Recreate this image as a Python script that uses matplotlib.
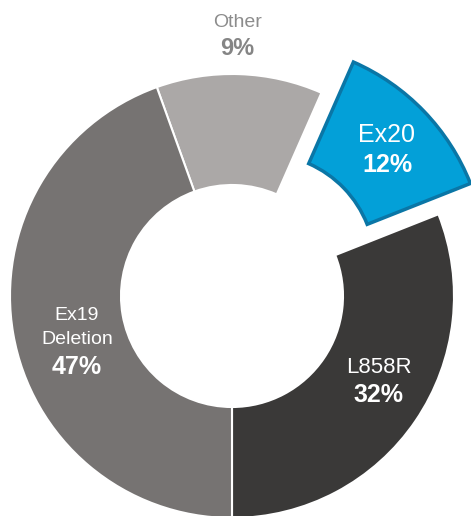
import matplotlib.pyplot as plt

plt.rcParams['font.family'] = ['Liberation Sans', 'DejaVu Sans']

# data, starting at 6 o'clock and going counterclockwise
names = ["L858R", "Ex20", "Other", "Ex19 Deletion"]
percent_labels = ["32%", "12%", "9%", "47%"]
# slice sizes as drawn in the picture (they differ a bit from the printed labels)
slice_sizes = [31.0, 12.4, 12.1, 44.5]
colors = ["#3a3938", "#03a0d8", "#aba8a7", "#767372"]
explode = [0, 0.2, 0, 0]

fig = plt.figure(figsize=(4.71, 5.16), dpi=100)
ax = fig.add_axes([0, 0, 1, 1])

wedges, _ = ax.pie(slice_sizes, colors=colors, explode=explode, startangle=-90,
                   counterclock=True, radius=1.0,
                   wedgeprops=dict(width=0.5, edgecolor="white", linewidth=1.5))
wedges[1].set_edgecolor("#0a76a6")
wedges[1].set_linewidth(2.5)

# center of the ring at pixel (232, 296), radius 222 px
ax.set_xlim(-232 / 222, (471 - 232) / 222)
ax.set_ylim(-(516 - 296) / 222, 296 / 222)
ax.set_aspect("equal")
ax.axis("off")

# labels
ax.text(0.023, 1.234, "Other", ha="center", va="center", fontsize=14, color="#8c8c8c")
ax.text(0.023, 1.113, percent_labels[2], ha="center", va="center", fontsize=17,
        color="#858585", fontweight="bold")

ax.text(0.698, 0.725, "Ex20", ha="center", va="center", fontsize=18, color="white")
ax.text(0.698, 0.59, percent_labels[1], ha="center", va="center", fontsize=18,
        color="white", fontweight="bold")

ax.text(-0.698, -0.086, "Ex19", ha="center", va="center", fontsize=14, color="white")
ax.text(-0.698, -0.194, "Deletion", ha="center", va="center", fontsize=14, color="white")
ax.text(-0.698, -0.32, percent_labels[3], ha="center", va="center", fontsize=18,
        color="white", fontweight="bold")

ax.text(0.662, -0.32, names[0], ha="center", va="center", fontsize=16, color="white")
ax.text(0.662, -0.446, percent_labels[0], ha="center", va="center", fontsize=18,
        color="white", fontweight="bold")

fig.savefig("out.png", dpi=100)
